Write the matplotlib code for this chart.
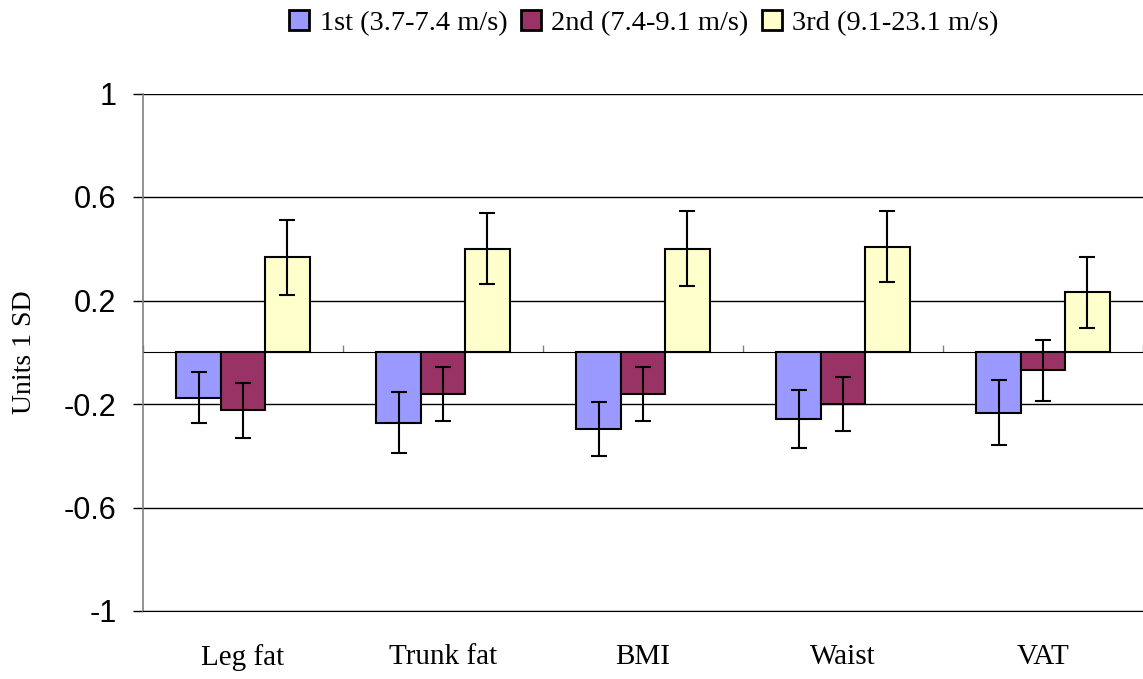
import numpy as np
import matplotlib.pyplot as plt

# values
categories = ["Leg fat", "Trunk fat", "BMI", "Waist", "VAT"]
series_names = ["1st (3.7-7.4 m/s)", "2nd (7.4-9.1 m/s)", "3rd (9.1-23.1 m/s)"]

first = [-0.175, -0.272, -0.297, -0.258, -0.233]
second = [-0.225, -0.16, -0.16, -0.20, -0.07]
third = [0.367, 0.40, 0.40, 0.407, 0.232]

first_err = [0.10, 0.117, 0.105, 0.113, 0.125]
second_err = [0.105, 0.104, 0.104, 0.105, 0.117]
third_err = [0.145, 0.138, 0.145, 0.137, 0.138]

colors = ["#9999FF", "#993366", "#FFFFCC"]
yticks = [-1, -0.6, -0.2, 0.2, 0.6, 1]

serif = "Liberation Serif"
sans = "Liberation Sans"

fig = plt.figure(figsize=(11.43, 6.79), dpi=100)
ax = fig.add_axes([143 / 1143, 68 / 679, 1000 / 1143, 517.5 / 679])

x = np.arange(len(categories))
w = 0.222
all_vals = [first, second, third]
all_errs = [first_err, second_err, third_err]

for i in range(3):
    ax.bar(x + (i - 1) * w, all_vals[i], width=w, color=colors[i],
           edgecolor="black", linewidth=1.5, label=series_names[i], zorder=3)
    ax.errorbar(x + (i - 1) * w, all_vals[i], yerr=all_errs[i], fmt="none",
                ecolor="black", elinewidth=1.5, capsize=5.5, capthick=1.5, zorder=4)

ax.set_xlim(-0.5, len(categories) - 0.5)
ax.set_ylim(-1, 1)
ax.set_yticks(yticks)
ax.set_yticklabels(["-1", "-0.6", "-0.2", "0.2", "0.6", "1"], fontfamily=sans, fontsize=22)
ax.tick_params(axis="y", direction="out", length=7, width=1, color="black", pad=12)
ax.yaxis.grid(True, color="black", linewidth=1)
ax.set_axisbelow(True)

ax.set_xticks(x)
ax.set_xticklabels(categories, fontfamily=serif, fontsize=21)
ax.tick_params(axis="x", length=0, pad=24)

for s in ["top", "right"]:
    ax.spines[s].set_visible(False)
ax.spines["left"].set_color("#808080")
ax.spines["left"].set_linewidth(1.2)
ax.spines["bottom"].set_color("black")

# category axis crossing at zero
zero_axis = ax.secondary_xaxis(0.5)
zero_axis.set_xticks(np.arange(len(categories) + 1) - 0.5)
zero_axis.set_xticklabels([])
zero_axis.tick_params(direction="out", length=5, width=1, color="#808080")
zero_axis.spines["bottom"].set_color("black")
zero_axis.spines["bottom"].set_linewidth(1.2)

fig.text(25 / 1143, 0.5 + (679 / 2 - 352) / 679, "Units 1 SD", rotation=90,
         ha="center", va="center", fontfamily=serif, fontsize=20)

leg = ax.legend(loc="center", bbox_to_anchor=(644 / 1143, 1 - 23 / 679),
                bbox_transform=fig.transFigure, ncol=3, frameon=False,
                prop={"family": serif, "size": 20.5}, handlelength=0.7,
                handleheight=0.7, handletextpad=0.38, columnspacing=0.46)
for h in leg.legend_handles:
    h.set_linewidth(2)

fig.savefig("out.png", dpi=100)
